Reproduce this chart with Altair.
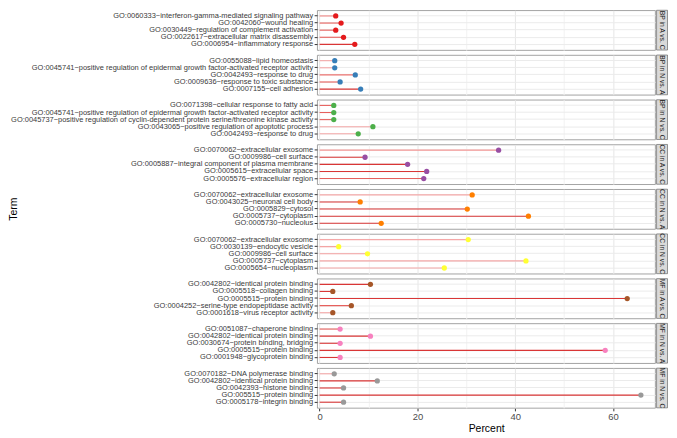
import altair as alt
import pandas as pd

groups = ["BP in A vs. C", "BP in N vs. A", "BP in N vs. C",
          "CC in A vs. C", "CC in N vs. A", "CC in N vs. C",
          "MF in A vs. C", "MF in N vs. A", "MF in N vs. C"]

terms = [
    ["GO:0060333~interferon-gamma-mediated signaling pathway",
     "GO:0042060~wound healing",
     "GO:0030449~regulation of complement activation",
     "GO:0022617~extracellular matrix disassembly",
     "GO:0006954~inflammatory response"],
    ["GO:0055088~lipid homeostasis",
     "GO:0045741~positive regulation of epidermal growth factor-activated receptor activity",
     "GO:0042493~response to drug",
     "GO:0009636~response to toxic substance",
     "GO:0007155~cell adhesion"],
    ["GO:0071398~cellular response to fatty acid",
     "GO:0045741~positive regulation of epidermal growth factor-activated receptor activity",
     "GO:0045737~positive regulation of cyclin-dependent protein serine/threonine kinase activity",
     "GO:0043065~positive regulation of apoptotic process",
     "GO:0042493~response to drug"],
    ["GO:0070062~extracellular exosome",
     "GO:0009986~cell surface",
     "GO:0005887~integral component of plasma membrane",
     "GO:0005615~extracellular space",
     "GO:0005576~extracellular region"],
    ["GO:0070062~extracellular exosome",
     "GO:0043025~neuronal cell body",
     "GO:0005829~cytosol",
     "GO:0005737~cytoplasm",
     "GO:0005730~nucleolus"],
    ["GO:0070062~extracellular exosome",
     "GO:0030139~endocytic vesicle",
     "GO:0009986~cell surface",
     "GO:0005737~cytoplasm",
     "GO:0005654~nucleoplasm"],
    ["GO:0042802~identical protein binding",
     "GO:0005518~collagen binding",
     "GO:0005515~protein binding",
     "GO:0004252~serine-type endopeptidase activity",
     "GO:0001618~virus receptor activity"],
    ["GO:0051087~chaperone binding",
     "GO:0042802~identical protein binding",
     "GO:0030674~protein binding, bridging",
     "GO:0005515~protein binding",
     "GO:0001948~glycoprotein binding"],
    ["GO:0070182~DNA polymerase binding",
     "GO:0042802~identical protein binding",
     "GO:0042393~histone binding",
     "GO:005515~protein binding",
     "GO:0005178~integrin binding"],
]

percent = [
    [3.3, 4.4, 3.3, 4.9, 7.2],
    [3.1, 3.1, 7.3, 4.2, 8.4],
    [2.9, 2.9, 2.9, 10.9, 7.9],
    [36.6, 9.3, 18.0, 21.9, 21.3],
    [31.2, 8.3, 30.2, 42.7, 12.6],
    [30.4, 3.9, 9.8, 42.2, 25.5],
    [10.4, 2.7, 62.9, 6.5, 2.7],
    [4.2, 10.4, 4.2, 58.4, 4.2],
    [3.0, 11.8, 4.9, 65.7, 4.9],
]

significance = [
    [3.0, 4.0, 4.0, 4.0, 5.0],
    [2.0, 2.0, 3.5, 4.0, 5.0],
    [4.0, 4.0, 4.0, 2.0, 2.0],
    [2.5, 5.0, 5.0, 5.0, 4.0],
    [2.0, 5.0, 5.0, 5.0, 5.0],
    [2.0, 2.5, 2.2, 2.0, 2.0],
    [5.0, 5.0, 5.0, 4.0, 2.0],
    [4.0, 5.0, 5.0, 5.0, 5.0],
    [2.0, 5.0, 5.0, 5.0, 5.0],
]

set1 = ["#E41A1C", "#377EB8", "#4DAF4A", "#984EA3", "#FF7F00",
        "#FFFF33", "#A65628", "#F781BF", "#999999"]

rows = []
for gi, g in enumerate(groups):
    for ti, t in enumerate(terms[gi]):
        rows.append({"Group": g, "Term": t, "Percent": percent[gi][ti],
                     "Significance": significance[gi][ti], "base": 0.0,
                     "idx": ti})
df = pd.DataFrame(rows)

W, H = 340, 40

x_axis = alt.Axis(
    values=[0, 10, 20, 30, 40, 50, 60],
    labelExpr="datum.value % 20 == 0 ? datum.label : ''",
    tickOpacity={"condition": {"test": "datum.value % 20 == 0", "value": 1}, "value": 0},
    gridColor={"condition": {"test": "datum.value % 20 == 0", "value": "#e6e6e6"}, "value": "#f2f2f2"},
    domain=False, tickColor="#333333", tickSize=3, labelFontSize=9.5,
    labelColor="#4d4d4d", labelPadding=1, titleFontSize=10.5,
    titleFontWeight="normal", titleColor="#000000", titlePadding=2,
)
x_scale = alt.Scale(domain=[-0.5, 68.6], nice=False, zero=False)
y_enc = alt.Y("Term:N", sort=alt.EncodingSortField(field="idx", op="min"),
              scale=alt.Scale(padding=0.6),
              axis=alt.Axis(title=None, domain=False, tickColor="#333333",
                            tickSize=3, labelFontSize=7.5, labelColor="#3a3a3a",
                            labelPadding=1.5, labelLimit=0, grid=True,
                            gridColor="#ebebeb"))

base = alt.Chart()

rule = base.mark_rule(strokeWidth=1.1).encode(
    x=alt.X("base:Q", scale=x_scale, axis=x_axis, title="Percent"),
    x2="Percent:Q",
    y=y_enc,
    stroke=alt.Stroke("Significance:Q",
                      scale=alt.Scale(range=["#f5a8a8", "#d93636"]),
                      legend=None),
)

points = base.mark_circle(size=28, opacity=1).encode(
    x=alt.X("Percent:Q", scale=x_scale, axis=x_axis, title="Percent"),
    y=y_enc,
    fill=alt.Fill("Group:N", scale=alt.Scale(domain=groups, range=set1),
                  legend=None),
)

strip_rect = base.transform_aggregate(
    n="count()", groupby=["Group"]
).mark_rect(fill="#d9d9d9", stroke="#555555", strokeWidth=0.6).encode(
    x=alt.value(W + 1.5), x2=alt.value(W + 12.5),
    y=alt.value(0), y2=alt.value(H),
)

strip_text = base.transform_aggregate(
    n="count()", groupby=["Group"]
).mark_text(angle=90, fontSize=6.8, color="#1a1a1a", align="center",
            baseline="middle").encode(
    x=alt.value(W + 7), y=alt.value(H / 2), text="Group:N",
)

term_title = base.transform_aggregate(
    n="count()", groupby=["Group"]
).transform_filter(
    alt.datum.Group == "CC in N vs. A"
).mark_text(angle=270, fontSize=10.5, color="#000000", align="center",
            baseline="middle").encode(
    x=alt.value(-305), y=alt.value(H / 2), text=alt.value("Term"),
)

layered = alt.layer(rule, points, strip_rect, strip_text, term_title,
                    data=df).properties(width=W, height=H)

chart = layered.facet(
    row=alt.Row("Group:N", sort=groups,
                header=alt.Header(labels=False, title=None)),
    spacing=5,
).resolve_scale(y="independent").properties(
    padding=0, bounds="flush"
).configure(font="Liberation Sans").configure_view(
    stroke="#8c8c8c", strokeWidth=0.8
)

chart.save("out.html", embed_options={"renderer": "svg", "actions": False})
